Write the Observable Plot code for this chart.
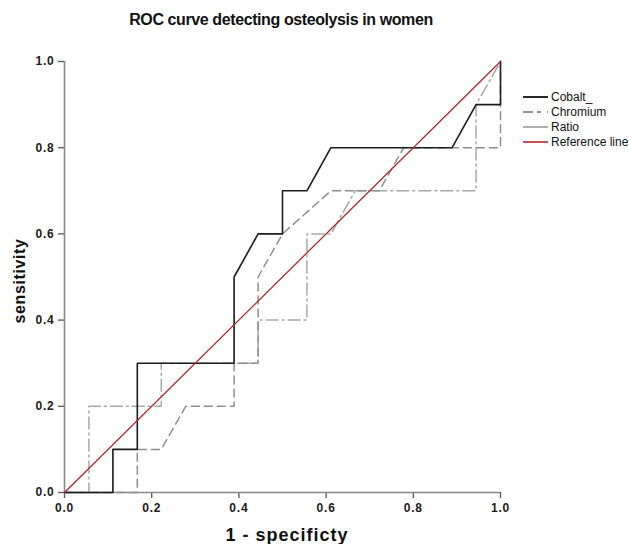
<!DOCTYPE html>
<html><head><meta charset="utf-8">
<script src="https://cdn.jsdelivr.net/npm/d3@7"></script>
<script src="https://cdn.jsdelivr.net/npm/@observablehq/plot@0.6"></script>
<style>
body{margin:0;background:#fff;}
#wrap{position:relative;width:629px;height:544px;font-family:"Liberation Sans",Arial,Helvetica,sans-serif;color:#111;}
#wrap svg.plot{position:absolute;left:0;top:0;}
.title{position:absolute;left:0;width:562px;top:12px;text-align:center;font-weight:bold;font-size:16px;line-height:16px;letter-spacing:-0.4px;}
.xlab{position:absolute;left:182px;width:210px;top:526px;text-align:center;font-weight:bold;font-size:18px;line-height:18px;letter-spacing:1px;}
.ylab{position:absolute;left:-40px;width:120px;top:273px;text-align:center;font-weight:bold;font-size:16px;line-height:16px;letter-spacing:0.6px;transform:rotate(-90deg);}
.legend{position:absolute;left:522px;top:89px;font-size:12px;}
.legend .row{height:15px;display:flex;align-items:center;}
.legend .row svg{width:27px;height:12px;margin-right:2px;}
</style>
</head><body>
<div id="wrap">
  <div class="title">ROC curve detecting osteolysis in women</div>
  <div class="ylab">sensitivity</div>
  <div class="xlab">1 - specificty</div>
  <div class="legend" id="legend"></div>
</div>
<script>
// Data
const seriesNames = ["Cobalt_", "Chromium", "Ratio", "Reference line"];

const cobaltX = [0, 0.111, 0.111, 0.167, 0.167, 0.389, 0.389, 0.444, 0.5, 0.5, 0.556, 0.611, 0.889, 0.944, 1, 1];
const cobaltY = [0, 0, 0.1, 0.1, 0.3, 0.3, 0.5, 0.6, 0.6, 0.7, 0.7, 0.8, 0.8, 0.9, 0.9, 1];

const chromiumX = [0, 0.167, 0.167, 0.222, 0.278, 0.389, 0.389, 0.444, 0.444, 0.5, 0.611, 0.722, 0.778, 1, 1];
const chromiumY = [0, 0, 0.1, 0.1, 0.2, 0.2, 0.3, 0.3, 0.5, 0.6, 0.7, 0.7, 0.8, 0.8, 1];

const ratioX = [0, 0.056, 0.056, 0.222, 0.222, 0.444, 0.444, 0.556, 0.556, 0.611, 0.667, 0.944, 0.944, 1];
const ratioY = [0, 0, 0.2, 0.2, 0.3, 0.3, 0.4, 0.4, 0.6, 0.6, 0.7, 0.7, 0.9, 1];

const refX = [0, 1];
const refY = [0, 1];

const xTicks = [0, 0.2, 0.4, 0.6, 0.8, 1.0];
const yTicks = [0, 0.2, 0.4, 0.6, 0.8, 1.0];

const styles = [
  {stroke: "#1c1c1c", dash: null, width: 1.6},
  {stroke: "#8f8f8f", dash: "8,5", width: 1.5},
  {stroke: "#a8a8a8", dash: "12,4,2,4", width: 1.5},
  {stroke: "#b3262b", dash: null, width: 1.3}
];

const toPts = (xs, ys) => xs.map((x, i) => ({x, y: ys[i]}));
const cobalt = toPts(cobaltX, cobaltY);
const chromium = toPts(chromiumX, chromiumY);
const ratio = toPts(ratioX, ratioY);
const ref = toPts(refX, refY);

const plot = Plot.plot({
  width: 629, height: 544,
  marginTop: 61, marginBottom: 52, marginLeft: 64, marginRight: 129,
  x: {domain: [0, 1]},
  y: {domain: [0, 1]},
  style: {fontFamily: "'Liberation Sans', Arial, sans-serif", fontSize: "12px", fontWeight: "bold", color: "#1a1a1a", background: "transparent", letterSpacing: "0.8px", overflow: "visible"},
  marks: [
    Plot.axisX({ticks: xTicks, tickFormat: d3.format(".1f"), tickSize: 6, tickPadding: 5, label: null, stroke: "#555", strokeWidth: 1.3}),
    Plot.axisY({ticks: yTicks, tickFormat: d3.format(".1f"), tickSize: 6, tickPadding: 4, label: null, stroke: "#555", strokeWidth: 1.3}),
    Plot.ruleX([0], {stroke: "#888", strokeWidth: 1.6}),
    Plot.ruleY([0], {stroke: "#888", strokeWidth: 1.6}),
    Plot.line(ratio, {x: "x", y: "y", stroke: styles[2].stroke, strokeWidth: styles[2].width, strokeDasharray: styles[2].dash}),
    Plot.line(chromium, {x: "x", y: "y", stroke: styles[1].stroke, strokeWidth: styles[1].width, strokeDasharray: styles[1].dash}),
    Plot.line(cobalt, {x: "x", y: "y", stroke: styles[0].stroke, strokeWidth: styles[0].width}),
    Plot.line(ref, {x: "x", y: "y", stroke: styles[3].stroke, strokeWidth: styles[3].width})
  ]
});
plot.classList.add("plot");
document.getElementById("wrap").prepend(plot);

const legend = d3.select("#legend");
seriesNames.forEach((name, i) => {
  const row = legend.append("div").attr("class", "row");
  const s = row.append("svg").attr("viewBox", "0 0 27 12");
  s.append("line").attr("x1", 1).attr("x2", 26).attr("y1", 6).attr("y2", 6)
    .attr("stroke", styles[i].stroke).attr("stroke-width", styles[i].width + 0.3)
    .attr("stroke-dasharray", i === 1 ? "10,4,4,6" : (i === 2 ? null : styles[i].dash));
  row.append("span").text(name);
});
</script>
</body></html>
